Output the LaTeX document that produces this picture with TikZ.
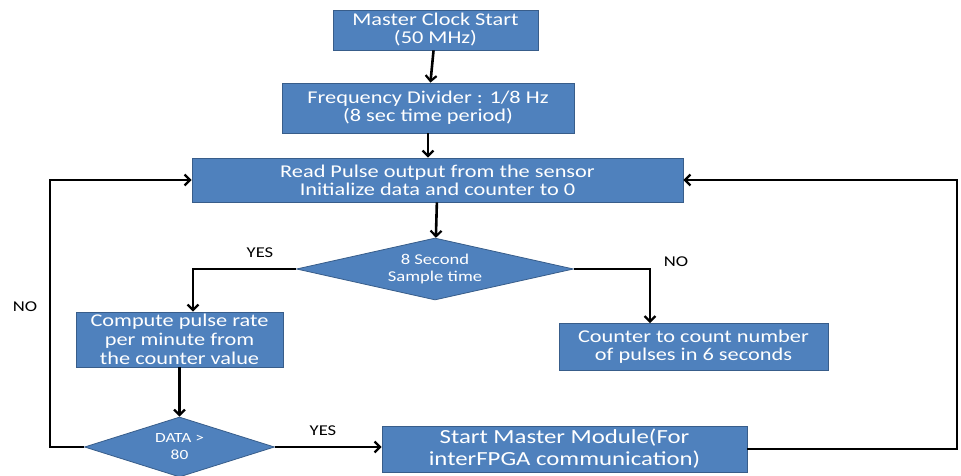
\documentclass[tikz,border=0pt]{standalone}
\usepackage{fontspec}
\setmainfont{Carlito}[FakeStretch=1.24]
\usepackage{tikz}
\usepackage{xcolor}
\usetikzlibrary{arrows.meta, positioning, shapes.geometric}
\definecolor{boxblue}{RGB}{79, 129, 189}
\definecolor{edgeblue}{RGB}{56, 93, 138}

\begin{document}
\begin{tikzpicture}[x=1pt,y=-1pt,
          box/.style={draw=edgeblue,line width=0.8pt,fill=boxblue,text=white,
                      align=center,inner sep=0pt,
                      font=\fontsize{18}{18}\selectfont},
          dec/.style={diamond,draw=edgeblue,line width=0.8pt,fill=boxblue,text=white,
                      align=center,inner sep=0pt,
                      font=\fontsize{15}{17}\selectfont},
          arr/.style={-{Straight Barb[length=5.5pt,width=11pt,line width=2.2pt]},line width=2.6pt},
          lbl/.style={font=\fontsize{15}{15}\selectfont}]
        \useasboundingbox (0,0) rectangle (961,476);
        \node[box,minimum width=205,minimum height=40](clk) at (435.5,30){Master Clock Start\\(50 MHz)};
        \node[box,minimum width=292,minimum height=50](div) at (428,108){Frequency Divider : 1/8 Hz\\(8 sec time period)};
        \node[box,minimum width=491,minimum height=44](read) at (437.5,180){Read Pulse output from the sensor\\Initialize data and counter to 0};
        \node[dec,shape aspect=4.5,minimum width=277,minimum height=62](samp) at (435,269){8 Second\\Sample time};
        \node[box,minimum width=207,minimum height=55,font=\fontsize{18}{19}\selectfont](comp) at (179.5,339.5){Compute pulse rate\\per minute from\\the counter value};
        \node[box,minimum width=269,minimum height=47](cnt) at (693.5,347){Counter to count number\\of pulses in 6 seconds};
        \node[dec,shape aspect=3.2,minimum width=190,minimum height=60,font=\fontsize{14}{17}\selectfont](data) at (179.5,447){DATA >\\80};
        \node[box,minimum width=365,minimum height=46,font=\fontsize{20}{22}\selectfont](mstr) at (564.5,449){Start Master Module(For\\interFPGA communication)};
        \coordinate (lloop) at (50,447);
        \coordinate (rloop) at (957,449);
        \node[lbl](yes1) at (260,253){YES};
        \node[lbl](no1) at (676,262){NO};
        \node[lbl](no2) at (25,307){NO};
        \node[lbl](yes2) at (323,431){YES};
        \draw[arr](clk)--(div);
        \draw[arr](div.south)--(div.south |- read.north);
        \draw[arr](read)--(samp);
        \draw[arr](samp.west)-|([xshift=13.5pt]comp.north);
        \draw[arr](samp.east)-|([xshift=-43.5pt]cnt.north);
        \draw[arr](comp)--(data);
        \draw[arr](data.east)--(data.east -| mstr.west);
        \draw[arr](data.west)--(lloop)|-(read.west);
        \draw[arr](mstr.east)--(rloop)|-(read.east);
      \end{tikzpicture}
\end{document}
